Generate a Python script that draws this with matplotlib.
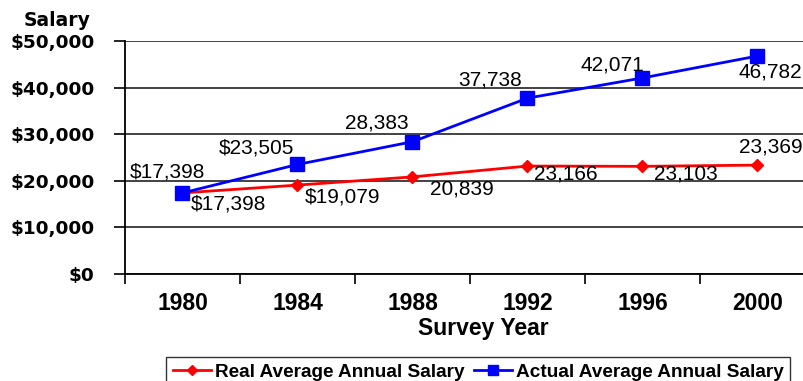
import matplotlib.pyplot as plt
from matplotlib.ticker import FixedLocator, NullFormatter

years = ["1980", "1984", "1988", "1992", "1996", "2000"]
real_salary = [17398, 19079, 20839, 23166, 23103, 23369]
actual_salary = [17398, 23505, 28383, 37738, 42071, 46782]
real_labels = ["$17,398", "$19,079", "20,839", "23,166", "23,103", "23,369"]
actual_labels = ["$17,398", "$23,505", "28,383", "37,738", "42,071", "46,782"]
y_labels = ["$0", "$10,000", "$20,000", "$30,000", "$40,000", "$50,000"]

# label offsets in pixels from each point
real_offsets = [(46, -11), (45, -12), (49, -12), (38, -8), (43, -8), (13, 18)]
actual_offsets = [(-15, 21), (-41, 16), (-36, 19), (-37, 18), (-30, 13), (13, -16)]

fig = plt.figure(figsize=(8.04, 3.81), dpi=100)
# plot area runs a little past the right edge of the image
ax = fig.add_axes([125 / 804, 1 - 274 / 381, 690 / 804, 233 / 381])

x = list(range(len(years)))
ax.plot(x, real_salary, color="#ff0000", lw=2.0, marker="D", ms=6.5,
        label="Real Average Annual Salary", zorder=3)
ax.plot(x, actual_salary, color="#0000ff", lw=2.0, marker="s", ms=9.5,
        label="Actual Average Annual Salary", zorder=4)

for i in x:
    ax.annotate(real_labels[i], (i, real_salary[i]), xytext=real_offsets[i],
                textcoords="offset pixels", ha="center", va="center",
                fontsize=15, family="Liberation Sans", annotation_clip=False)
    ax.annotate(actual_labels[i], (i, actual_salary[i]), xytext=actual_offsets[i],
                textcoords="offset pixels", ha="center", va="center",
                fontsize=15, family="Liberation Sans", annotation_clip=False)

ax.set_xlim(-0.5, len(years) - 0.5)
ax.set_ylim(0, 50000)
ax.set_yticks(range(0, 50001, 10000))
ax.set_yticklabels(y_labels, family="DejaVu Sans", fontweight="heavy", fontsize=13.3)
ax.yaxis.grid(True, color="#222222", lw=1.2)
ax.set_axisbelow(True)

# tick marks between categories, year labels centred on categories
ax.xaxis.set_major_locator(FixedLocator([i - 0.5 for i in range(len(years) + 1)]))
ax.xaxis.set_major_formatter(NullFormatter())
ax.xaxis.set_minor_locator(FixedLocator(x))
ax.set_xticklabels(years, minor=True, family="Liberation Sans",
                   fontweight="bold", fontsize=16.5)
ax.tick_params(axis="x", which="major", length=7, width=1.2, direction="out")
ax.tick_params(axis="x", which="minor", length=0, pad=13)
ax.tick_params(axis="y", length=8, width=1.2, direction="out", pad=14)

for side in ["top", "right"]:
    ax.spines[side].set_visible(False)
for side in ["left", "bottom"]:
    ax.spines[side].set_linewidth(1.3)
    ax.spines[side].set_color("black")

fig.text(57 / 804, 1 - 26 / 381, "Salary", ha="center", va="baseline",
         family="DejaVu Sans", fontweight="bold", fontsize=13.5)
fig.text(483 / 804, 1 - 335 / 381, "Survey Year", ha="center", va="baseline",
         family="Liberation Sans", fontweight="bold", fontsize=16.5)

leg = fig.legend(loc="upper left", bbox_to_anchor=(166 / 804, 1 - 357 / 381),
                 ncol=2, frameon=True, fancybox=False, edgecolor="black",
                 borderaxespad=0, borderpad=0.35, handlelength=2.0,
                 handletextpad=0.2, columnspacing=0.5, markerscale=0.75,
                 prop={"family": "Liberation Sans", "weight": "bold", "size": 13.7})
leg.get_frame().set_linewidth(1.0)

fig.savefig("out.png", dpi=100)
